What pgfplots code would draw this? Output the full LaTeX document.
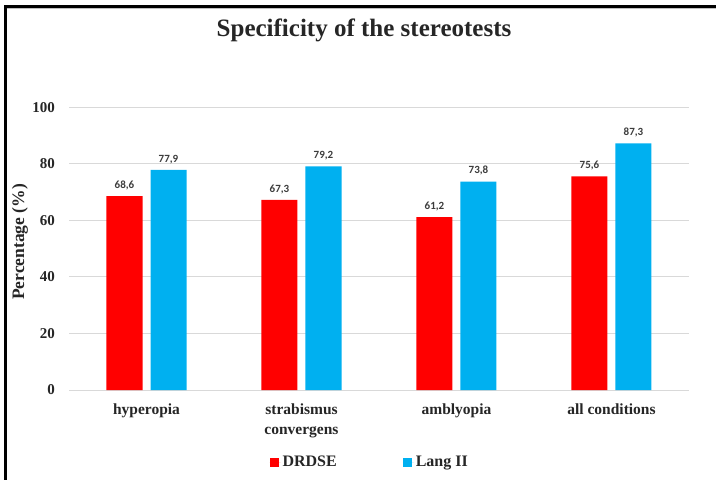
\documentclass[border=0pt]{standalone}
\usepackage{pgfplots}
\pgfplotsset{compat=1.18}
\usepackage{fontspec}
\setmainfont{Liberation Serif}
\newfontfamily\lblfont{Carlito}
\definecolor{cred}{HTML}{FF0000}
\definecolor{cblue}{HTML}{00B0F0}
\definecolor{txt}{HTML}{262626}
\definecolor{grd}{HTML}{D9D9D9}
\begin{document}
\begin{tikzpicture}[x=1pt,y=1pt]
\useasboundingbox (0,0) rectangle (716,480);
\fill[white] (0,0) rectangle (716,480);
\draw[line width=3pt,black] (5,0) -- (5,473.5) -- (716,473.5);
\draw[line width=1pt,gray!50] (6.5,471.5) -- (716,471.5);
\node[anchor=base,font=\bfseries\fontsize{25}{29}\selectfont,text=txt] at (364,443) {Specificity of the stereotests};
\node[rotate=90,font=\bfseries\fontsize{17.5}{20}\selectfont,text=txt] at (20,238) {Percentage (\%)};
\begin{axis}[
  at={(69pt,90pt)}, anchor=south west,
  scale only axis, width=620pt, height=282.5pt,
  xmin=-0.5, xmax=3.5, ymin=0, ymax=100,
  ybar=8pt, bar width=36pt,
  ytick={0,20,40,60,80,100},
  xtick={0,1,2,3},
  xticklabels={hyperopia,{strabismus\\convergens},amblyopia,all conditions},
  major tick length=0pt,
  axis line style={draw=none},
  ymajorgrids, grid style={grd, line width=1pt},
  /pgf/number format/assume math mode=true,
  yticklabel style={font=\bfseries\fontsize{15}{18}\selectfont, text=txt, inner sep=0pt, xshift=-14pt},
  xticklabel style={font=\bfseries\fontsize{15.5}{19.5}\selectfont, text=txt, align=center, inner sep=0pt, yshift=-14pt},
  nodes near coords={\pgfmathprintnumber[use comma,fixed,fixed zerofill,precision=1,assume math mode=true]{\pgfplotspointmeta}},
  nodes near coords style={font=\lblfont\bfseries\fontsize{11}{13}\selectfont, text=txt!90, inner sep=0pt, anchor=south, yshift=6pt},
  legend columns=2,
  legend style={at={(0.485,-0.255)}, anchor=center, draw=none, fill=none,
    font=\bfseries\fontsize{16}{19}\selectfont, text=txt,
    /tikz/every even column/.append style={column sep=64pt},
    inner sep=0pt},
  legend image code/.code={\fill[#1,draw=none] (0pt,-5pt) rectangle (9pt,4pt); \path (0pt,0pt) -- (11pt,0pt);},
]
\addplot[fill=cred, draw=none] coordinates {(0,68.6) (1,67.3) (2,61.2) (3,75.6)};
\addplot[fill=cblue, draw=none] coordinates {(0,77.9) (1,79.2) (2,73.8) (3,87.3)};
\legend{DRDSE, Lang II}
\end{axis}
\end{tikzpicture}
\end{document}
